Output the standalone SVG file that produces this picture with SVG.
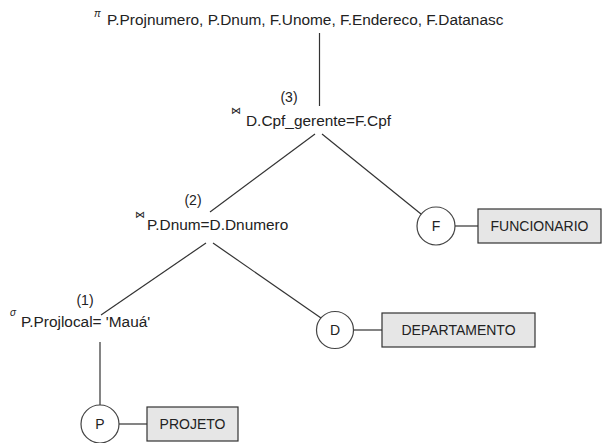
<svg xmlns="http://www.w3.org/2000/svg" width="602" height="443" viewBox="0 0 602 443">
<style>
text{font-family:"Liberation Sans",Arial,sans-serif;fill:#222}
.t{font-size:15.4px}
.s{font-size:10px}
.lbl{font-size:14px}
.c{fill:#fff;stroke:#444;stroke-width:1.2}
.b{fill:#e6e6e6;stroke:#333;stroke-width:1.2}
.e{stroke:#333;stroke-width:1.2;fill:none}
.m{text-anchor:middle}
</style>
<rect width="602" height="443" fill="#fff"/>
<g id="connectors">
<line class="e" x1="319.5" y1="33" x2="319.5" y2="106"/>
<line class="e" x1="315" y1="134" x2="210" y2="212"/>
<line class="e" x1="322" y1="134" x2="421" y2="214"/>
<line class="e" x1="455" y1="226" x2="478" y2="226"/>
<line class="e" x1="206" y1="243" x2="101" y2="315"/>
<line class="e" x1="213" y1="243" x2="321" y2="318"/>
<line class="e" x1="353.5" y1="330" x2="382" y2="330"/>
<line class="e" x1="100" y1="342" x2="100" y2="405"/>
<line class="e" x1="119" y1="424" x2="147" y2="424"/>
</g>
<g id="proj">
<text class="s" x="94" y="17" font-style="italic">π</text>
<text class="t" x="107" y="25">P.Projnumero, P.Dnum, F.Unome, F.Endereco, F.Datanasc</text>
</g>
<g id="join3">
<text class="lbl m" x="289" y="102">(3)</text>
<text class="s" x="231" y="114">⋈</text>
<text class="t" x="246" y="126">D.Cpf_gerente=F.Cpf</text>
</g>
<g id="join2">
<text class="lbl m" x="193" y="205">(2)</text>
<text class="s" x="135" y="218">⋈</text>
<text class="t" x="147" y="230">P.Dnum=D.Dnumero</text>
</g>
<g id="select1">
<text class="lbl m" x="85" y="305">(1)</text>
<text class="s" x="10" y="316" font-style="italic">σ</text>
<text class="t" x="21" y="327">P.Projlocal= 'Mauá'</text>
</g>
<g id="F">
<circle class="c" cx="436" cy="226" r="19"/>
<text class="lbl m" x="436" y="231">F</text>
</g>
<g id="FUNCIONARIO">
<rect class="b" x="478" y="209" width="123" height="34"/>
<text class="lbl m" x="539.5" y="231">FUNCIONARIO</text>
</g>
<g id="D">
<circle class="c" cx="335" cy="330" r="18.5"/>
<text class="lbl m" x="335" y="335">D</text>
</g>
<g id="DEPARTAMENTO">
<rect class="b" x="382" y="313" width="153" height="34"/>
<text class="lbl m" x="458.5" y="335">DEPARTAMENTO</text>
</g>
<g id="P">
<circle class="c" cx="100" cy="424" r="19"/>
<text class="lbl m" x="100" y="429">P</text>
</g>
<g id="PROJETO">
<rect class="b" x="147" y="407" width="91" height="34"/>
<text class="lbl m" x="192.5" y="429">PROJETO</text>
</g>
</svg>
